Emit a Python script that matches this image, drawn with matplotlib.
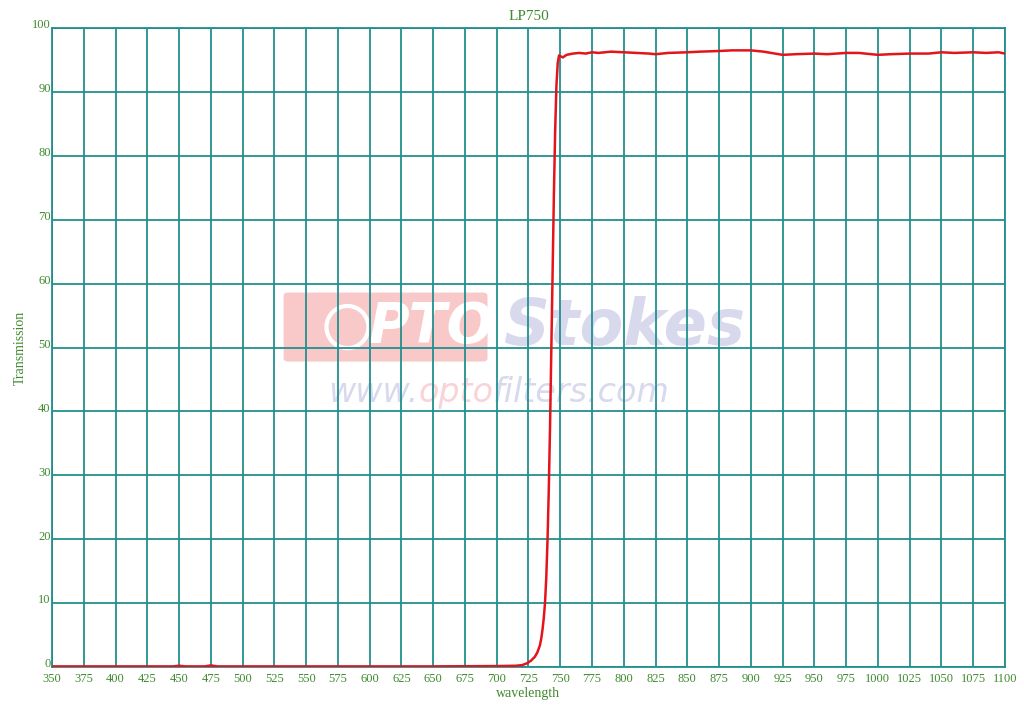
import matplotlib
matplotlib.use("Agg")
import matplotlib.pyplot as plt
import matplotlib.transforms as mtransforms
from matplotlib.patches import FancyBboxPatch, Ellipse

# transmission curve
wavelength = [350, 400, 445, 450, 455, 470, 475, 480, 550, 600, 650, 700, 715, 720,
              724, 727, 730, 732, 734, 735, 736, 737, 738, 739, 740, 741, 742, 743,
              744, 745, 746, 747, 748, 749, 750, 752, 755, 760, 765, 770, 775, 780,
              790, 800, 810, 820, 825, 835, 850, 860, 875, 885, 900, 910, 925, 935,
              950, 960, 975, 985, 1000, 1010, 1025, 1040, 1050, 1060, 1075, 1085, 1095, 1100]
transmission = [0.1, 0.1, 0.1, 0.2, 0.1, 0.1, 0.25, 0.1, 0.1, 0.1, 0.1, 0.15, 0.2, 0.3,
                0.6, 1.0, 1.6, 2.3, 3.4, 4.4, 5.8, 7.6, 10.0, 14.0, 20.0, 28.0, 38.0, 50.0,
                62.0, 74.0, 84.0, 91.0, 94.5, 95.7, 95.6, 95.4, 95.8, 96.0, 96.1, 96.0, 96.2, 96.1,
                96.3, 96.2, 96.1, 96.0, 95.9, 96.1, 96.2, 96.3, 96.4, 96.5, 96.5, 96.3, 95.8, 95.9,
                96.0, 95.9, 96.1, 96.1, 95.8, 95.9, 96.0, 96.0, 96.2, 96.1, 96.2, 96.1, 96.2, 96.0]

x_ticks = list(range(350, 1101, 25))
y_ticks = list(range(0, 101, 10))

teal = "#21908f"
green = "#3f8a2e"
plt.rcParams['font.family'] = ['Liberation Serif', 'DejaVu Serif']

fig = plt.figure(figsize=(10.24, 7.09), dpi=100)
ax = fig.add_axes([0.0508, 0.0592, 0.9306, 0.9013])

ax.plot(wavelength, transmission, color="#e3141b", linewidth=1.8, zorder=3)
ax.set_xlim(350, 1100)
ax.set_ylim(0, 100)
ax.set_xticks(x_ticks)
ax.set_yticks(y_ticks)
ax.grid(True, color=teal, linewidth=1.3)
for s in ax.spines.values():
    s.set_color(teal)
    s.set_linewidth(1.3)

ax.tick_params(axis='both', length=0, labelsize=9, labelcolor=green)
ax.tick_params(axis='x', pad=4)
ax.tick_params(axis='y', pad=1)
offset = mtransforms.ScaledTranslation(0, 3 / 72, fig.dpi_scale_trans)
for lbl in ax.get_yticklabels():
    lbl.set_transform(lbl.get_transform() + offset)

ax.set_title("LP750", color=green, fontsize=11, pad=6)
ax.set_xlabel("wavelength", color=green, fontsize=10, labelpad=2)
ax.set_ylabel("Transmission", color=green, fontsize=10, labelpad=4)

# faint watermark behind the grid
wm = dict(transform=ax.transAxes, family="DejaVu Sans", va='center', zorder=0.6)
box = FancyBboxPatch((0.243, 0.478), 0.214, 0.108, boxstyle="round,pad=0,rounding_size=0.005",
                     transform=ax.transAxes, facecolor="#f9c9c9", edgecolor="none", zorder=0.5)
ax.add_patch(box)
ax.add_patch(Ellipse((0.31, 0.532), 0.044, 0.066, transform=ax.transAxes, facecolor="none",
                     edgecolor="white", linewidth=3, zorder=0.6))
ax.text(0.398, 0.532, "PTO", fontsize=40, fontweight='bold', style='italic',
        color="white", ha='center', **wm)
ax.text(0.6, 0.532, "Stokes", fontsize=46, fontweight='bold', style='italic',
        color="#d9d9ee", ha='center', **wm)
ax.text(0.29, 0.43, "www.", fontsize=24, style='italic', color="#d9d9ee", ha='left', **wm)
ax.text(0.385, 0.43, "opto", fontsize=24, style='italic', color="#f9d3d8", ha='left', **wm)
ax.text(0.462, 0.43, "filters.com", fontsize=24, style='italic', color="#d9d9ee", ha='left', **wm)

fig.savefig("out.png", dpi=100)
